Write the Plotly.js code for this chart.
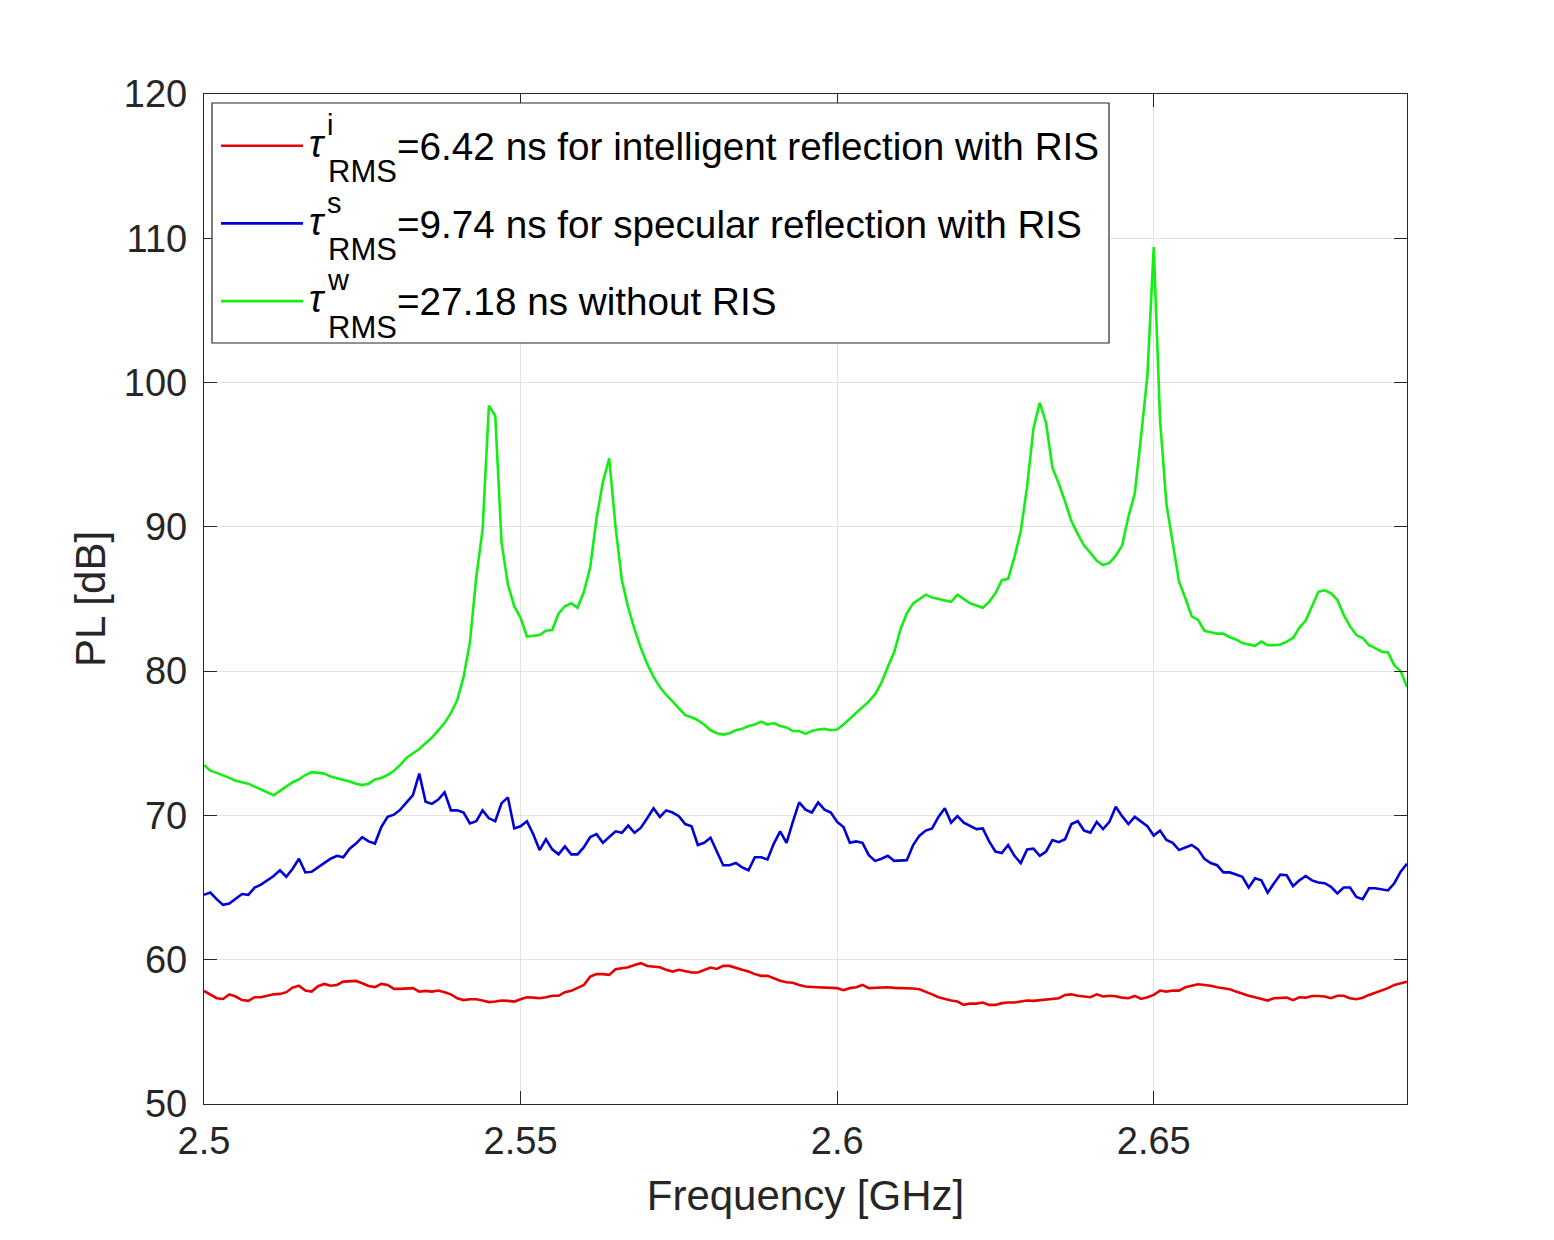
<!DOCTYPE html>
<html>
<head>
<meta charset="utf-8">
<script src="https://cdn.plot.ly/plotly-3.0.1.min.js"></script>
<style>html,body{margin:0;padding:0;background:#fff;}#chart{width:1554px;height:1240px;}</style>
</head>
<body>
<div id="chart"></div>
<script>
// Frequency grid [GHz]
var frequency = [
2.500,2.501,2.502,2.503,2.504,2.505,2.506,2.507,2.508,2.509,
2.510,2.511,2.512,2.513,2.514,2.515,2.516,2.517,2.518,2.519,
2.520,2.521,2.522,2.523,2.524,2.525,2.526,2.527,2.528,2.529,
2.530,2.531,2.532,2.533,2.534,2.535,2.536,2.537,2.538,2.539,
2.540,2.541,2.542,2.543,2.544,2.545,2.546,2.547,2.548,2.549,
2.550,2.551,2.552,2.553,2.554,2.555,2.556,2.557,2.558,2.559,
2.560,2.561,2.562,2.563,2.564,2.565,2.566,2.567,2.568,2.569,
2.570,2.571,2.572,2.573,2.574,2.575,2.576,2.577,2.578,2.579,
2.580,2.581,2.582,2.583,2.584,2.585,2.586,2.587,2.588,2.589,
2.590,2.591,2.592,2.593,2.594,2.595,2.596,2.597,2.598,2.599,
2.600,2.601,2.602,2.603,2.604,2.605,2.606,2.607,2.608,2.609,
2.610,2.611,2.612,2.613,2.614,2.615,2.616,2.617,2.618,2.619,
2.620,2.621,2.622,2.623,2.624,2.625,2.626,2.627,2.628,2.629,
2.630,2.631,2.632,2.633,2.634,2.635,2.636,2.637,2.638,2.639,
2.640,2.641,2.642,2.643,2.644,2.645,2.646,2.647,2.648,2.649,
2.650,2.651,2.652,2.653,2.654,2.655,2.656,2.657,2.658,2.659,
2.660,2.661,2.662,2.663,2.664,2.665,2.666,2.667,2.668,2.669,
2.670,2.671,2.672,2.673,2.674,2.675,2.676,2.677,2.678,2.679,
2.680,2.681,2.682,2.683,2.684,2.685,2.686,2.687,2.688,2.689,
2.690];

// PL [dB], intelligent reflection with RIS (red)
var plIntelligent = [
57.84,57.56,57.33,57.28,57.6,57.45,57.2,57.15,57.4,57.4,
57.5,57.6,57.63,57.75,58.07,58.2,57.86,57.79,58.16,58.32,
58.2,58.25,58.48,58.53,58.53,58.37,58.18,58.1,58.32,58.25,
57.98,57.98,58.03,58.03,57.79,57.84,57.79,57.86,57.75,57.6,
57.33,57.2,57.26,57.26,57.17,57.06,57.1,57.17,57.15,57.1,
57.26,57.4,57.37,57.33,57.4,57.5,57.5,57.75,57.84,58.03,
58.25,58.83,59.0,59.0,58.95,59.34,59.41,59.48,59.64,59.76,
59.57,59.52,59.48,59.3,59.18,59.3,59.18,59.11,59.11,59.3,
59.46,59.36,59.57,59.57,59.46,59.3,59.18,59.0,58.88,58.88,
58.72,58.55,58.44,58.41,58.25,58.14,58.11,58.09,58.07,58.03,
58.03,57.89,58.03,58.09,58.25,58.03,58.05,58.05,58.09,58.05,
58.05,58.03,58.0,57.95,57.79,57.6,57.4,57.28,57.17,57.1,
56.87,56.96,56.96,57.03,56.87,56.87,56.99,57.03,57.03,57.1,
57.17,57.15,57.2,57.26,57.28,57.33,57.56,57.6,57.5,57.45,
57.4,57.6,57.45,57.5,57.47,57.37,57.33,57.49,57.28,57.4,
57.56,57.86,57.79,57.86,57.86,58.09,58.2,58.3,58.25,58.2,
58.09,58.03,57.95,57.79,57.63,57.5,57.4,57.28,57.17,57.33,
57.33,57.37,57.2,57.4,57.37,57.49,57.49,57.45,57.33,57.5,
57.5,57.33,57.26,57.37,57.56,57.7,57.84,58.03,58.25,58.37,
58.48];

// PL [dB], specular reflection with RIS (blue)
var plSpecular = [
64.5,64.65,64.2,63.8,63.9,64.2,64.55,64.5,65.0,65.2,
65.5,65.8,66.2,65.75,66.3,67.0,66.05,66.1,66.4,66.7,
67.0,67.2,67.1,67.7,68.05,68.5,68.2,68.05,69.2,69.9,
70.05,70.4,70.9,71.4,72.9,70.95,70.8,71.1,71.6,70.35,
70.35,70.2,69.45,69.6,70.35,69.8,69.6,70.85,71.25,69.1,
69.25,69.6,68.7,67.6,68.35,67.65,67.3,67.85,67.3,67.3,
67.8,68.5,68.7,68.1,68.5,68.9,68.8,69.3,68.8,69.15,
69.8,70.5,69.9,70.35,70.2,69.95,69.4,69.25,67.95,68.1,
68.45,67.5,66.55,66.55,66.7,66.4,66.2,67.1,67.1,66.95,
68.05,68.9,68.1,69.55,70.9,70.4,70.2,70.9,70.4,70.2,
69.55,69.2,68.1,68.2,68.1,67.25,66.85,67.0,67.2,66.85,
66.9,66.9,67.95,68.6,68.95,69.1,69.9,70.5,69.5,69.95,
69.5,69.25,69.05,69.1,68.2,67.5,67.4,67.95,67.2,66.7,
67.65,67.7,67.2,67.5,68.3,68.15,68.35,69.4,69.6,68.95,
68.8,69.55,69.05,69.55,70.6,69.95,69.4,69.9,69.55,69.25,
68.6,68.95,68.3,68.1,67.6,67.8,67.95,67.65,67.0,66.7,
66.55,66.05,66.05,65.9,65.75,65.0,65.65,65.5,64.65,65.3,
65.9,65.85,65.1,65.5,65.8,65.5,65.35,65.3,65.05,64.6,
65.0,65.0,64.35,64.2,64.95,64.95,64.9,64.8,65.3,66.1,
66.65];

// PL [dB], without RIS (green)
var plWithout = [
73.5,73.1,72.95,72.8,72.6,72.4,72.3,72.2,72.0,71.8,
71.6,71.4,71.7,72.0,72.3,72.5,72.8,73.0,72.95,72.9,
72.7,72.6,72.5,72.35,72.2,72.1,72.2,72.5,72.6,72.8,
73.1,73.5,74.0,74.3,74.6,75.0,75.4,75.9,76.4,77.1,
78.0,79.6,82.0,86.5,89.8,98.4,97.7,88.9,86.0,84.5,
83.7,82.4,82.45,82.5,82.8,82.85,84.0,84.5,84.7,84.4,
85.5,87.2,90.6,93.1,94.75,90.0,86.3,84.4,82.9,81.6,
80.5,79.6,78.9,78.35,77.9,77.4,76.95,76.8,76.6,76.3,
75.9,75.7,75.6,75.7,75.9,76.0,76.2,76.3,76.5,76.3,
76.4,76.2,76.1,75.85,75.85,75.65,75.85,75.95,76.0,75.9,
75.95,76.3,76.7,77.1,77.5,77.9,78.4,79.2,80.3,81.3,
82.9,84.0,84.7,85.0,85.3,85.1,85.0,84.9,84.8,85.3,
85.0,84.7,84.55,84.4,84.8,85.4,86.3,86.4,87.9,89.7,
92.8,96.8,98.6,97.2,94.1,93.0,91.75,90.4,89.5,88.7,
88.2,87.65,87.35,87.5,88.0,88.7,90.7,92.3,96.25,100.5,
109.4,97.4,91.6,88.9,86.2,85.05,83.8,83.55,82.8,82.7,
82.6,82.6,82.35,82.2,81.95,81.85,81.75,82.05,81.8,81.8,
81.85,82.05,82.3,83.0,83.5,84.5,85.5,85.6,85.4,84.95,
83.9,83.1,82.5,82.3,81.8,81.6,81.35,81.3,80.4,80.0,
78.9];

var xTickVals = [2.5, 2.55, 2.6, 2.65];
var xTickText = ["2.5", "2.55", "2.6", "2.65"];
var yTickVals = [50, 60, 70, 80, 90, 100, 110, 120];

var seriesNames = ["intelligent", "specular", "without"];
var seriesColors = ["#e60000", "#0000d6", "#14ee14"];
var legendSup = ["i", "s", "w"];
var legendMain = ["=6.42 ns for intelligent reflection with RIS",
                  "=9.74 ns for specular reflection with RIS",
                  "=27.18 ns without RIS"];
var seriesData = [plIntelligent, plSpecular, plWithout];

var FONT = "Liberation Sans, Arial, Helvetica, sans-serif";
var W = 1554, H = 1240, L = 204, R = 1407, T = 94, B = 1104;
function px(x) { return (x - L) / (R - L); }
function py(y) { return (B - y) / (B - T); }

var traces = seriesData.map(function (d, k) {
  return {
    x: frequency, y: d, type: "scatter", mode: "lines",
    name: seriesNames[k], showlegend: false,
    line: { color: seriesColors[k], width: 2.6 }
  };
});

var shapes = [{
  type: "rect", xref: "paper", yref: "paper",
  x0: px(212), x1: px(1109), y0: py(343), y1: py(103),
  fillcolor: "#ffffff", line: { color: "#262626", width: 1.2 }, layer: "above"
}];
var annotations = [];
var rowStep = 77.7;
for (var k = 0; k < 3; k++) {
  var dy = rowStep * k;
  shapes.push({
    type: "line", xref: "paper", yref: "paper",
    x0: px(221), x1: px(303), y0: py(145.7 + dy), y1: py(145.7 + dy),
    line: { color: seriesColors[k], width: 2.6 }, layer: "above"
  });
  annotations.push({
    xref: "paper", yref: "paper", x: px(307), y: py(144 + dy),
    xanchor: "left", yanchor: "middle", showarrow: false,
    text: "<i>τ</i>", font: { family: FONT, size: 38, color: "#000" }
  });
  annotations.push({
    xref: "paper", yref: "paper", x: px(325), y: py(125 + dy),
    xanchor: "left", yanchor: "middle", showarrow: false,
    text: legendSup[k], font: { family: FONT, size: 29, color: "#000" }
  });
  annotations.push({
    xref: "paper", yref: "paper", x: px(326), y: py(172 + dy),
    xanchor: "left", yanchor: "middle", showarrow: false,
    text: "RMS", font: { family: FONT, size: 31, color: "#000" }
  });
  annotations.push({
    xref: "paper", yref: "paper", x: px(395), y: py(146.5 + dy),
    xanchor: "left", yanchor: "middle", showarrow: false,
    text: legendMain[k], font: { family: FONT, size: 38.7, color: "#000" }
  });
}

var axisCommon = {
  showline: true, linecolor: "#262626", linewidth: 1.2, mirror: "ticks",
  ticks: "inside", ticklen: 13, tickwidth: 1.2, tickcolor: "#262626",
  showgrid: true, gridcolor: "#e3e3e3", gridwidth: 1, zeroline: false,
  tickfont: { family: FONT, size: 38, color: "#262626" }
};

var layout = {
  width: W, height: H,
  margin: { l: L, r: W - R, t: T, b: H - B, pad: 0 },
  paper_bgcolor: "#ffffff", plot_bgcolor: "#ffffff",
  font: { family: FONT, color: "#262626" },
  showlegend: false,
  xaxis: Object.assign({}, axisCommon, {
    range: [2.5, 2.69], tickmode: "array", tickvals: xTickVals, ticktext: xTickText,
    ticklabelstandoff: 3,
    title: { text: "Frequency [GHz]", font: { family: FONT, size: 42, color: "#262626" }, standoff: 19 }
  }),
  yaxis: Object.assign({}, axisCommon, {
    range: [50, 120], tickmode: "array", tickvals: yTickVals,
    ticklabelstandoff: 8,
    title: { text: "PL [dB]", font: { family: FONT, size: 42, color: "#262626" }, standoff: 5 }
  }),
  shapes: shapes,
  annotations: annotations
};

Plotly.newPlot("chart", traces, layout, { staticPlot: true, displayModeBar: false });
</script>
</body>
</html>
